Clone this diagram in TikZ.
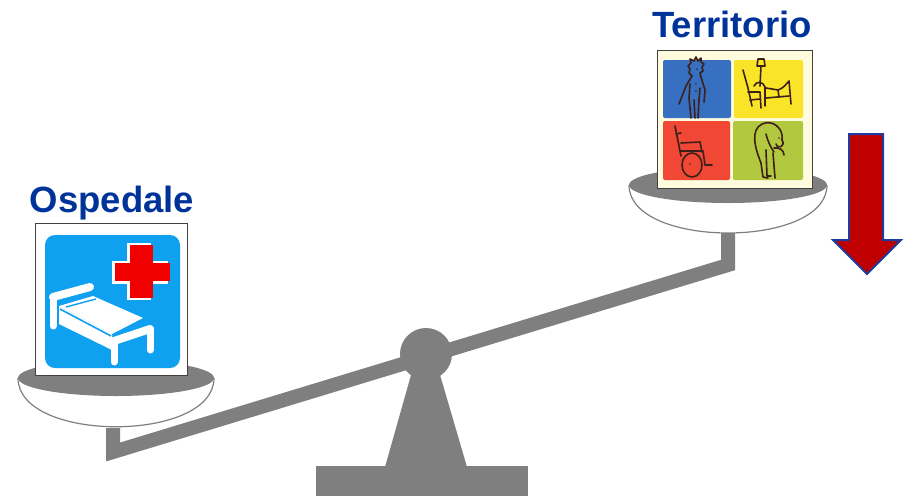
\documentclass[tikz,border=0pt]{standalone}
\usepackage{fontspec}
\setmainfont{Liberation Sans}
\definecolor{scalegray}{RGB}{127,127,127}
\definecolor{titleblue}{RGB}{0,51,153}
\definecolor{signblue}{RGB}{15,160,240}
\definecolor{crossred}{RGB}{240,0,0}
\definecolor{arrowred}{RGB}{192,0,0}
\definecolor{arrowedge}{RGB}{30,60,160}
\definecolor{cream}{RGB}{255,252,222}
\definecolor{qblue}{RGB}{55,112,192}
\definecolor{qyellow}{RGB}{250,228,40}
\definecolor{qred}{RGB}{240,72,52}
\definecolor{qgreen}{RGB}{178,200,62}
\definecolor{ink}{RGB}{60,32,25}
\tikzset{
  title/.style={font=\bfseries\fontsize{36.5}{40}\selectfont, text=titleblue, anchor=base, inner sep=0pt},
  bowl/.style={fill=white, draw=scalegray, line width=1.2pt},
  pantop/.style={fill=scalegray},
  frame/.style={draw=black!75, line width=0.8pt},
  sketch/.style={draw=ink, line width=1.6pt, line cap=round, line join=round},
  bedpart/.style={draw=white, line cap=round, line join=round}
}
\begin{document}
\begin{tikzpicture}[x=1pt, y=-1pt]
\useasboundingbox (0,0) rectangle (907,496);

% beam with the two posts carrying the pans
\draw[scalegray, line width=14pt, line join=miter] (113,428) -- (113,452) -- (728,265) -- (728,230);

% stand and pivot
\fill[scalegray] (413,368) -- (385,467) -- (467,467) -- (438,368) -- cycle;
\fill[scalegray] (316,466) rectangle (528,496);
\fill[scalegray] (426,354) circle[radius=26];

% left pan
\draw[bowl] (18,378) .. controls (18,443) and (214,443) .. (214,378);
\fill[pantop] (116,378) ellipse[x radius=98, y radius=18];
% right pan
\draw[bowl] (629,185) .. controls (629,249) and (827,249) .. (827,185);
\fill[pantop] (728,185) ellipse[x radius=99, y radius=18];

% hospital sign
\node[frame, fill=white, minimum width=152pt, minimum height=152pt, inner sep=0pt] (hsign) at (111,299) {};
\fill[signblue, rounded corners=10pt] (45,235) rectangle (180,368);
% red cross with light edge
\fill[white] (127,243) rectangle (151,300);
\fill[white] (112,261) rectangle (168,284);
\fill[crossred] (130,245) rectangle (153,298);
\fill[crossred] (115,263) rectangle (170,281);
% bed
\draw[bedpart, line width=8pt] (53,297) -- (90,287);
\draw[bedpart, line width=7pt] (53,297) -- (53,326);
\fill[white] (59,306) -- (93,296) -- (143,318) -- (112,334) -- cycle;
\fill[white] (59,306) -- (112,334) -- (112,350) -- (59,324) -- cycle;
\draw[signblue, line width=1.6pt] (60,309) -- (111,336);
\draw[signblue, line width=1.4pt] (66,307) -- (96,299);
\draw[bedpart, line width=8pt] (114,341) -- (150,329);
\draw[bedpart, line width=7pt] (114,341) -- (114,362);
\draw[bedpart, line width=7pt] (150,329) -- (150,350);

% community care picture
\node[frame, fill=cream, minimum width=155pt, minimum height=138pt, inner sep=0pt] (csign) at (734.5,119) {};
\fill[qblue, rounded corners=2pt] (663,60) rectangle (731,118);
\fill[qyellow, rounded corners=2pt] (734,60) rectangle (803,118);
\fill[qred, rounded corners=2pt] (663,121) rectangle (730,180);
\fill[qgreen, rounded corners=2pt] (733,121) rectangle (803,180);

% standing person
\draw[sketch] (692,76) -- (689,73) -- (690,69) -- (688,66) -- (691,63) -- (690,59) -- (694,61) -- (696,57) -- (698,61) -- (701,58) -- (701,62) -- (704,64) -- (702,67) -- (703,71) -- (700,73) -- (701,77);
\draw[sketch] (692,76) -- (686,86) -- (679,104);
\draw[sketch] (690,84) -- (689,98) -- (691,118);
\draw[sketch] (701,77) -- (705,90) -- (704,102);
\draw[sketch] (700,88) -- (699,100) -- (698,118);
\draw[sketch] (694,100) -- (695,118);
\fill[ink] (696,84) circle[radius=0.9] (696,91) circle[radius=0.9] (697,69) circle[radius=0.8];

% bed with lamp
\draw[sketch] (757,66) -- (758,59) -- (764,59) -- (765,66) -- cycle;
\draw[sketch] (761,66) -- (760,86);
\draw[sketch] (743,70) -- (748,88) -- (752,106);
\draw[sketch] (748,92) -- (760,92) -- (761,108);
\draw[sketch] (750,100) -- (760,99);
\draw[sketch] (754,86) .. controls (756,81) and (763,81) .. (765,87);
\draw[sketch] (765,87) -- (765,106);
\draw[sketch] (766,88) -- (778,90) .. controls (784,88) and (786,84) .. (789,81) -- (791,104);
\draw[sketch] (766,98) -- (789,96);
\draw[sketch] (778,90) -- (779,97);

% wheelchair
\draw[sketch] (675,126) -- (678,141) -- (681,156);
\draw[sketch] (676,134) -- (681,133);
\draw[sketch] (681,143) -- (700,142) -- (702,152);
\draw[sketch] (680,151) -- (703,151) -- (705,165) -- (712,165);
\draw[sketch] (692,165) ellipse[x radius=10, y radius=12];
\fill[ink] (690,164) circle[radius=0.9];

% bent figure with a cane
\draw[sketch] (761,163) .. controls (755,148) and (750,130) .. (762,124) .. controls (772,119) and (784,128) .. (782,140);
\draw[sketch] (782,140) .. controls (786,146) and (778,150) .. (776,144);
\draw[sketch] (766,134) .. controls (768,142) and (771,148) .. (774,152);
\draw[sketch] (774,148) .. controls (779,147) and (784,150) .. (784,155);
\draw[sketch] (773,153) -- (775,178);
\draw[sketch] (761,163) -- (763,177) -- (768,178);
\draw[sketch] (766,150) -- (767,176) -- (771,176);
\fill[ink] (779,138) circle[radius=0.9];

% down arrow
\draw[fill=arrowred, draw=arrowedge, line width=2pt, line join=miter]
  (849,134) -- (883,134) -- (883,240) -- (901,240) -- (867,274) -- (833,240) -- (849,240) -- cycle;

% titles
\node[title] (hosp) at (112,212) {Ospedale};
\node[title] (terr) at (732,37) {Territorio};
\end{tikzpicture}
\end{document}
